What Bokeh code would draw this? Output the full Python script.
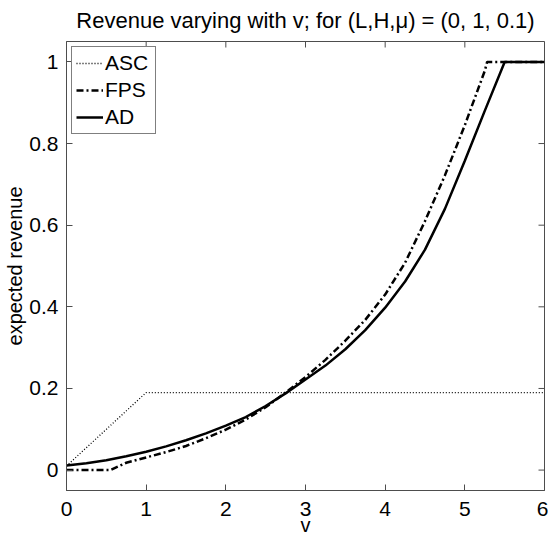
import math

from bokeh.plotting import figure
from bokeh.models import Range1d, FixedTicker, Legend, LegendItem
from bokeh.embed import file_html
from bokeh.resources import INLINE

# --- data -------------------------------------------------------------
asc_v = [0.0, 1.0, 6.0]
asc_rev = [0.01, 0.19, 0.19]

fps_v = [0.0, 0.55, 0.75, 1.0, 1.25, 1.5, 1.75, 2.0, 2.25, 2.5, 2.75, 3.0,
         3.25, 3.5, 3.75, 4.0, 4.25, 4.5, 4.75, 5.0, 5.25, 5.28, 6.0]
fps_rev = [0.0, 0.0, 0.018, 0.031, 0.044, 0.059, 0.078, 0.099, 0.124, 0.154,
           0.190, 0.228, 0.270, 0.317, 0.368, 0.430, 0.508, 0.610, 0.722,
           0.845, 0.978, 1.0, 1.0]

ad_v = [0.0, 0.25, 0.5, 0.75, 1.0, 1.25, 1.5, 1.75, 2.0, 2.25, 2.5, 2.75,
        3.0, 3.25, 3.5, 3.75, 4.0, 4.25, 4.5, 4.75, 5.0, 5.25, 5.5, 6.0]
ad_rev = [0.011, 0.017, 0.024, 0.034, 0.045, 0.058, 0.073, 0.090, 0.109,
          0.130, 0.157, 0.188, 0.222, 0.256, 0.296, 0.343, 0.398, 0.462,
          0.540, 0.640, 0.758, 0.880, 1.0, 1.0]

x_ticks = [0, 1, 2, 3, 4, 5, 6]
y_ticks = [0, 0.2, 0.4, 0.6, 0.8, 1.0]
y_tick_labels = ["0", "0.2", "0.4", "0.6", "0.8", "1"]

FONT = "Liberation Sans"
AXIS_COLOR = "#4d4d4d"
TICK_LEN = 6

x_lo, x_hi = 0, 6
y_lo, y_hi = -0.05, 1.05

p = figure(width=548, height=539, output_backend="svg", toolbar_location=None,
           x_range=Range1d(x_lo, x_hi), y_range=Range1d(y_lo, y_hi),
           min_border_left=66, min_border_right=4, min_border_top=40,
           min_border_bottom=49)
p.background_fill_color = "white"
p.border_fill_color = "white"
p.grid.visible = False
p.outline_line_color = AXIS_COLOR

p.title.text = "Revenue varying with v; for (L,H,\u03bc) = (0, 1, 0.1)"
p.title.align = "center"
p.title.vertical_align = "top"
p.title.text_font = FONT
p.title.text_font_size = "22px"
p.title.text_font_style = "normal"
p.title.text_color = "black"
p.title.standoff = 14

p.xaxis.axis_label = "v"
p.yaxis.axis_label = "expected revenue"

for ax in (p.xaxis[0], p.yaxis[0]):
    ax.axis_line_color = AXIS_COLOR
    ax.major_tick_line_color = AXIS_COLOR
    ax.major_tick_in = TICK_LEN
    ax.major_tick_out = 0
    ax.minor_tick_in = 0
    ax.minor_tick_out = 0
    ax.major_label_text_font = FONT
    ax.major_label_text_font_size = "21px"
    ax.major_label_text_color = "black"
    ax.axis_label_text_font = FONT
    ax.axis_label_text_font_size = "20px"
    ax.axis_label_text_font_style = "normal"
    ax.axis_label_text_color = "black"

p.xaxis[0].ticker = FixedTicker(ticks=x_ticks)
p.yaxis[0].ticker = FixedTicker(ticks=y_ticks)
p.yaxis[0].major_label_overrides = dict(zip(y_ticks, y_tick_labels))
p.xaxis[0].major_label_standoff = 11
p.xaxis[0].axis_label_standoff = -5
p.yaxis[0].major_label_standoff = 8
p.yaxis[0].axis_label_standoff = 0

# inward tick marks along the top and right edges of the box
p.ray(x=x_ticks, y=[y_hi] * len(x_ticks), length=TICK_LEN,
      length_units="screen", angle=-math.pi / 2,
      line_color=AXIS_COLOR, line_width=1)
p.ray(x=[x_hi] * len(y_ticks), y=y_ticks, length=TICK_LEN,
      length_units="screen", angle=math.pi,
      line_color=AXIS_COLOR, line_width=1)

r_asc = p.line(asc_v, asc_rev, line_color="black", line_width=1.3,
               line_dash="1 2")
r_fps = p.line(fps_v, fps_rev, line_color="black", line_width=2.5,
               line_dash="7 3 2 3")
r_ad = p.line(ad_v, ad_rev, line_color="black", line_width=2.5)

legend = Legend(items=[LegendItem(label="ASC", renderers=[r_asc]),
                       LegendItem(label="FPS", renderers=[r_fps]),
                       LegendItem(label="AD", renderers=[r_ad])],
                location="top_left")
legend.margin = 5
legend.padding = 4
legend.spacing = 3
legend.glyph_width = 27
legend.glyph_height = 20
legend.label_height = 20
legend.label_width = 46
legend.label_standoff = 2
legend.label_text_font = FONT
legend.label_text_font_size = "21px"
legend.label_text_color = "black"
legend.border_line_color = "black"
legend.border_line_width = 1
legend.background_fill_color = "white"
legend.background_fill_alpha = 1.0
p.add_layout(legend, "center")

open("out.html", "w").write(file_html(p, INLINE))
